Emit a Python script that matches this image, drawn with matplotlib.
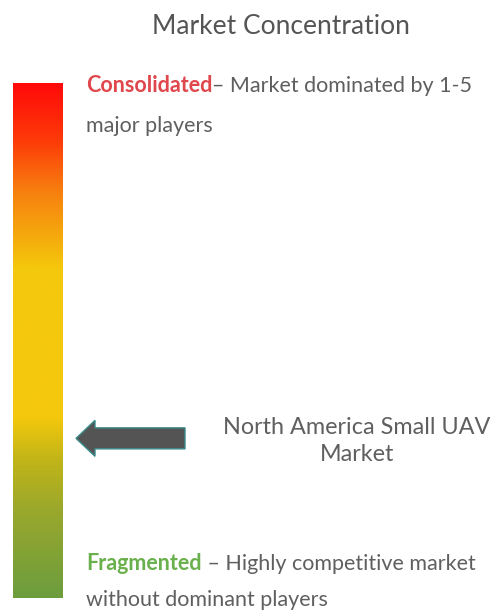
import matplotlib.pyplot as plt
import numpy as np
from matplotlib.colors import LinearSegmentedColormap
from matplotlib.patches import FancyArrow

# gradient stops, bottom -> top
stop_pos = [0.0, 0.17, 0.27, 0.35, 0.64, 0.79, 0.89, 1.0]
stop_colors = ["#6c9d3e", "#9aa82c", "#c2b518", "#f4c80c", "#f4c80c",
               "#f7800f", "#fd3a08", "#ff0a0a"]

title = "Market Concentration"
top_label = "Consolidated"
top_desc = ["\u2013 Market dominated by 1-5", "major players"]
bottom_label = "Fragmented"
bottom_desc = [" \u2013 Highly competitive market", "without dominant players"]
market_name = "North America Small UAV\nMarket"
market_level = 0.31  # position on the scale, 0 = fragmented, 1 = consolidated

plt.rcParams['font.family'] = ['Lato', 'DejaVu Sans']

fig = plt.figure(figsize=(4.92, 6.11), dpi=100)
ax = fig.add_axes([0, 0, 1, 1])
ax.set_xlim(0, 492)
ax.set_ylim(611, 0)
ax.axis('off')

# gradient bar
bar_left, bar_right, bar_top, bar_bottom = 13, 63, 83, 598
cmap = LinearSegmentedColormap.from_list("conc", list(zip(stop_pos, stop_colors)))
grad = np.linspace(1, 0, 256).reshape(-1, 1)
ax.imshow(grad, cmap=cmap, aspect='auto',
          extent=[bar_left, bar_right, bar_bottom, bar_top], interpolation='bilinear')

# arrow pointing at the market level
arrow_y = bar_bottom - market_level * (bar_bottom - bar_top)
ax.add_patch(FancyArrow(185, arrow_y, -109, 0, width=21, head_width=36,
                        head_length=19, length_includes_head=True,
                        facecolor="#545454", edgecolor="#3a8c8c", linewidth=1))

ax.text(281, 27, title, ha='center', va='center', fontsize=19, color="#555555")

gray = "#5f5f5f"
fs = 15.5
t = ax.text(86, 86, top_label, ha='left', va='center', fontsize=fs,
            color="#e0474c", fontweight='bold')
fig.canvas.draw()
bb = t.get_window_extent().transformed(ax.transData.inverted())
ax.text(bb.x1, 86, top_desc[0], ha='left', va='center', fontsize=fs, color=gray)
ax.text(86, 126, top_desc[1], ha='left', va='center', fontsize=fs, color=gray)

t = ax.text(86, 564, bottom_label, ha='left', va='center', fontsize=fs,
            color="#6ab04c", fontweight='bold')
fig.canvas.draw()
bb = t.get_window_extent().transformed(ax.transData.inverted())
ax.text(bb.x1, 564, bottom_desc[0], ha='left', va='center', fontsize=fs, color=gray)
ax.text(86, 600, bottom_desc[1], ha='left', va='center', fontsize=fs, color=gray)

ax.text(357, 441, market_name, ha='center', va='center', fontsize=16.8,
        color=gray, linespacing=1.4)

fig.savefig("out.png", dpi=100)
